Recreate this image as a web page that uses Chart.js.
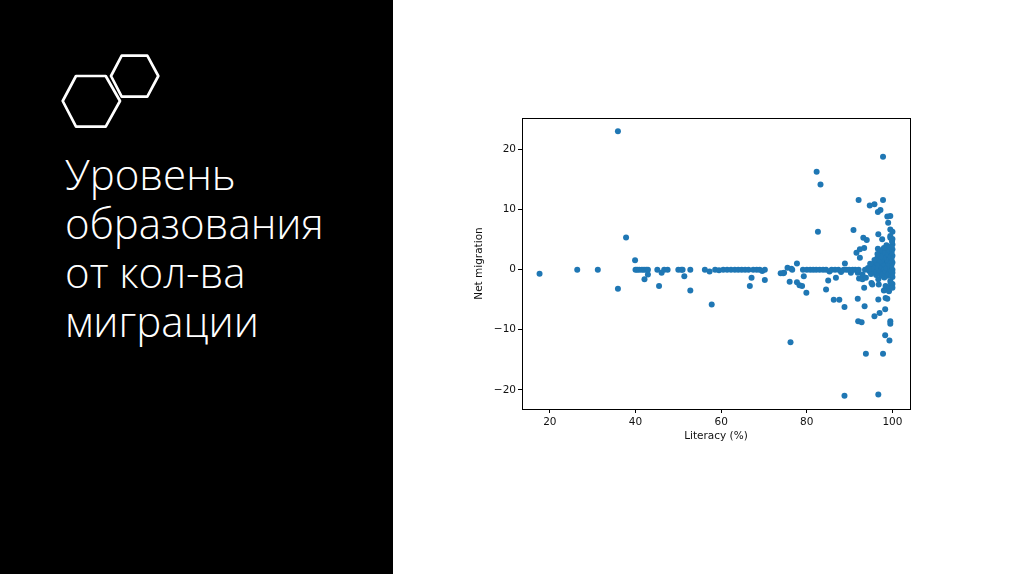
<!DOCTYPE html>
<html>
<head>
<meta charset="utf-8">
<script src="https://cdn.jsdelivr.net/npm/chart.js@4.4.1/dist/chart.umd.min.js"></script>
<style>
  html, body { margin: 0; padding: 0; width: 1024px; height: 574px; overflow: hidden; background: #fff; }
  #left { position: absolute; left: 0; top: 0; width: 393px; height: 574px; background: #000; }
  #hex { position: absolute; left: 0; top: 0; }
  #title { position: absolute; left: 65px; top: 149px; color: #fff; font-family: "Open Sans", sans-serif; font-weight: 300; font-size: 42px; line-height: 49px; white-space: nowrap; }
  #wrap { position: absolute; left: 460px; top: 100px; width: 470px; height: 360px; }
</style>
</head>
<body>
<div id="left">
  <svg id="hex" width="393" height="200">
    <polygon points="62.7,101 76,76 105.7,76 120,101 105.7,126.7 76,126.7" fill="none" stroke="#fff" stroke-width="2.7" stroke-linejoin="round"/>
    <polygon points="111,76 121.7,55.7 147.3,55.7 158.3,76 147.3,96.7 121.7,96.7" fill="none" stroke="#fff" stroke-width="2.7" stroke-linejoin="round"/>
  </svg>
  <div id="title">Уровень<br>образования<br>от кол-ва<br>миграции</div>
</div>
<div id="wrap"><canvas id="c" width="470" height="360"></canvas></div>
<script>
const literacy = [
  17.6, 26.4, 31.2, 35.9, 35.9, 37.8, 39.9, 40.0, 40.4, 40.9, 41.5, 42.0, 42.5, 42.9, 42.1, 42.9,
  45.1, 45.5, 46.1, 46.7, 47.5, 50.0, 50.7, 51.4, 51.0, 52.8, 52.8, 56.2, 57.3, 57.8, 58.6, 59.5,
  60.5, 61.4, 62.3, 63.2, 64.0, 64.8, 65.6, 66.4, 66.7, 67.1, 67.5, 68.3, 69.0, 69.6, 70.2, 70.2,
  73.9, 74.5, 74.7, 75.5, 76.0, 76.4, 76.2, 76.6, 77.7, 77.7, 78.3, 78.9, 79.9, 79.1, 79.3, 80.0,
  80.8, 81.5, 82.3, 83.2, 82.6, 82.2, 83.0, 83.8, 84.5, 85.0, 84.5, 85.3, 85.8, 86.3, 86.8, 86.6,
  87.4, 87.6, 88.0, 88.8, 88.8, 88.9, 88.6, 89.3, 89.9, 90.3, 90.9, 90.7, 91.3, 91.6, 91.9, 91.9,
  92.0, 92.1, 92.2, 92.4, 92.4, 92.1, 92.8, 93.0, 93.0, 93.2, 93.4, 93.4, 93.5, 93.8, 93.8, 93.6,
  94.0, 94.3, 94.7, 94.6, 95.1, 95.1, 95.3, 95.8, 95.8, 95.5, 95.9, 96.1, 96.5, 96.6, 96.6, 96.7,
  96.7, 96.7, 96.7, 96.8, 97.0, 97.2, 97.6, 97.8, 97.8, 97.8, 98.0, 98.2, 98.4, 98.8, 98.3, 98.3,
  98.4, 98.6, 98.8, 99.0, 99.5, 99.5, 99.5, 99.5, 99.2, 99.5, 99.5, 99.5, 99.3, 99.2,
  97.0, 97.5, 98.0, 98.5, 99.0, 99.4, 100, 100, 100, 100, 100, 100, 100, 99.8, 99.8, 99.8,
  99.7, 99.6, 99.4, 99.3, 99.2, 99.0, 99.0, 98.9, 98.8, 98.7, 98.6, 98.5, 98.4, 98.3, 98.2, 98.1,
  98.0, 97.9, 97.8, 97.7, 97.6, 97.5, 97.4, 97.3, 97.2, 97.1, 97.0, 96.9, 96.8, 96.6, 96.5, 96.4,
  96.2, 96.0, 95.8, 95.6, 95.3, 95.0, 94.8, 94.5, 100, 100, 100, 100, 99.6, 99.9
];
const netMigration = [
  -0.67, 0, 0, 23.06, -3.17, 5.37, 1.58, 0, 0, 0, 0, 0, 0, 0, -1.6, -0.8,
  0, -2.7, -0.5, 0, 0, 0, 0, -1.1, 0, 0, -3.45, 0, -0.3, -5.8, 0, -0.1,
  0, 0, 0, 0, 0, 0, 0, 0, -2.7, -1.35, 0, 0, 0, -0.2, 0, -1.7,
  -0.6, -0.6, -0.5, 0.33, -2.0, 0.17, -12.1, 0, 1.05, -2.1, -2.6, -2.7, -3.85, 0, -1.1, 0,
  0, 0, 16.3, 14.2, 6.3, 0, 0, 0, -3.3, -1.8, 0, -0.3, 0, -5.0, -1.35, 0,
  0, -5.0, -0.4, -6.2, -21.0, 1.05, 0, 0, 0, -0.5, 6.6, 0, 0, 2.8, -0.5, -4.85,
  -8.6, 11.6, -1.45, 2.0, 3.4, 0, -8.75, -1.6, -0.8, 5.3, 3.6, -3.0, -6.1, -1.35, -14.0, 0,
  4.95, 0.3, 10.7, -0.2, 0.6, -2.2, -2.45, 10.9, -7.75, 0, 0.9, 1.15, 2.0, 3.5, 9.6, 5.9,
  -1.6, -4.95, -20.8, -2.45, -7.2, 9.95, 5.05, 18.8, 11.6, -14.0, -3.45, -3.4, -4.7, -4.85, -6.6, -10.9,
  -2.7, 4.05, 8.85, 7.8, 8.95, 6.7, 5.6, 5.3, -3.0, -1.9, -8.6, -9.0, -11.8, -3.6,
  0, 0.5, 1.0, 0, 0, 0.3, 0, 1.2, 2.3, 3.4, 4.2, -0.5, -1.2, 0.8, 1.8, 2.9,
  -0.9, 3.8, 1.5, 2.6, -0.4, 3.2, 1.1, -1.0, 2.1, 0.6, 3.0, -0.7, 1.6, 2.5, 0.2, -1.3,
  3.6, 1.9, -0.5, 2.8, 0.9, -1.0, 1.5, 2.2, 0.1, 3.2, -0.6, 1.3, 0.4, -0.3, 2.6, 0.7,
  -0.9, 0.2, 1.6, -0.4, 0.4, -0.7, 1.0, 0.1, 5.1, 6.3, -2.4, -3.0, -2.2, 4.7
];
const xTicks = [20, 40, 60, 80, 100];
const yTicks = [-20, -10, 0, 10, 20];
const xTitle = 'Literacy (%)';
const yTitle = 'Net migration';

const points = literacy.map((v, i) => ({ x: v, y: netMigration[i] }));

const frame = {
  id: 'frame',
  afterDraw(chart) {
    const { ctx, chartArea: a } = chart;
    ctx.save();
    ctx.strokeStyle = '#000';
    ctx.lineWidth = 1;
    ctx.strokeRect(Math.round(a.left) + 0.5, Math.round(a.top) + 0.5, Math.round(a.right - a.left), Math.round(a.bottom - a.top));
    ctx.restore();
  }
};

const tickFont = { family: 'DejaVu Sans', size: 10.5 };
const fmt = v => (v < 0 ? '\u2212' + Math.abs(v) : String(v));

new Chart(document.getElementById('c'), {
  type: 'scatter',
  data: {
    datasets: [{
      data: points,
      backgroundColor: '#1f77b4',
      borderColor: '#1f77b4',
      borderWidth: 0,
      pointRadius: 3,
      pointHoverRadius: 3
    }]
  },
  options: {
    responsive: false,
    animation: false,
    events: [],
    layout: { padding: { left: 0, right: 20, top: 18, bottom: 6 } },
    plugins: { legend: { display: false }, tooltip: { enabled: false } },
    scales: {
      x: {
        type: 'linear',
        min: 13.5, max: 104.1,
        afterBuildTicks: s => { s.ticks = xTicks.map(v => ({ value: v })); },
        afterFit: s => { s.height = 45; },
        grid: { drawOnChartArea: false, drawTicks: true, tickLength: 4, color: '#000', lineWidth: 1 },
        border: { display: false },
        ticks: { color: '#111', font: tickFont, padding: 3, maxRotation: 0, autoSkip: false, callback: fmt },
        title: { display: true, text: xTitle, color: '#111', font: { family: 'DejaVu Sans', size: 10.5 }, padding: { top: 0, bottom: 11 } }
      },
      y: {
        type: 'linear',
        min: -23.2, max: 25.26,
        afterBuildTicks: s => { s.ticks = yTicks.map(v => ({ value: v })); },
        afterFit: s => { s.width = 62; },
        grid: { drawOnChartArea: false, drawTicks: true, tickLength: 4, color: '#000', lineWidth: 1 },
        border: { display: false },
        ticks: { color: '#111', font: tickFont, padding: 2, autoSkip: false, callback: fmt },
        title: { display: true, text: yTitle, color: '#111', font: { family: 'DejaVu Sans', size: 10.5 }, padding: { top: 13, bottom: 0 } }
      }
    }
  },
  plugins: [frame]
});
</script>
</body>
</html>
